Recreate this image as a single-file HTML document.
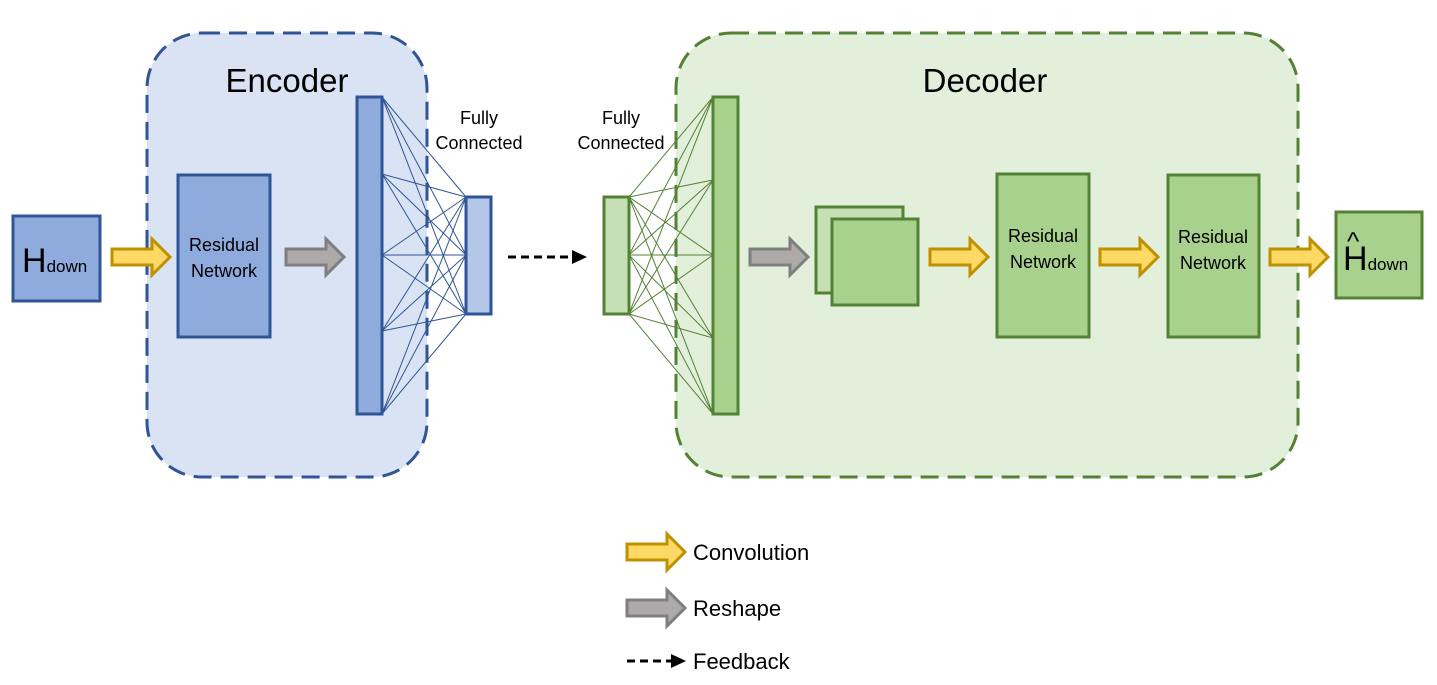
<!DOCTYPE html>
<html><head><meta charset="utf-8"><style>
body{margin:0;background:#fff}
svg{display:block}
text{font-family:"Liberation Sans",sans-serif;fill:#000}
</style></head><body>
<svg width="1437" height="685" viewBox="0 0 1437 685" xmlns="http://www.w3.org/2000/svg">
<defs>
<g id="ya"><path d="M0,-8 H40 V-18 L58,0 L40,18 V8 H0 Z" fill="#FFD966" stroke="#BF9000" stroke-width="3"/></g>
<g id="ga"><path d="M0,-8 H40 V-18 L58,0 L40,18 V8 H0 Z" fill="#AEAAAA" stroke="#7F7F7F" stroke-width="3"/></g>
</defs>
<rect x="147" y="33" width="280" height="444" rx="55" fill="#DAE3F3" stroke="#2F5597" stroke-width="3" stroke-dasharray="18,9"/>
<rect x="676" y="33" width="622" height="444" rx="55" fill="#E2EFDA" stroke="#548235" stroke-width="3" stroke-dasharray="18,9"/>
<text x="287" y="92" font-size="33" text-anchor="middle">Encoder</text>
<text x="985" y="92" font-size="33" text-anchor="middle">Decoder</text>
<text x="479" y="124" font-size="18" text-anchor="middle">Fully</text>
<text x="479" y="149" font-size="18" text-anchor="middle">Connected</text>
<text x="621" y="124" font-size="18" text-anchor="middle">Fully</text>
<text x="621" y="149" font-size="18" text-anchor="middle">Connected</text>
<!-- encoder lines -->
<g stroke="#2F5597" stroke-width="1">
<path d="M382,97L466,197M382,97L466,255M382,97L466,314M382,174L466,197M382,174L466,255M382,174L466,314M382,255L466,197M382,255L466,255M382,255L466,314M382,331L466,197M382,331L466,255M382,331L466,314M382,414L466,197M382,414L466,255M382,414L466,314"/>
</g>
<g stroke="#548235" stroke-width="1">
<path d="M629,197L713,97M629,197L713,180M629,197L713,255M629,197L713,338M629,197L713,414M629,255L713,97M629,255L713,180M629,255L713,255M629,255L713,338M629,255L713,414M629,314L713,97M629,314L713,180M629,314L713,255M629,314L713,338M629,314L713,414"/>
</g>
<rect x="357" y="97" width="25" height="317" fill="#8FAADC" stroke="#2F5597" stroke-width="3"/>
<rect x="466" y="197" width="25" height="117" fill="#B4C7E7" stroke="#2F5597" stroke-width="3"/>
<rect x="604" y="197" width="25" height="117" fill="#C5E0B4" stroke="#548235" stroke-width="3"/>
<rect x="713" y="97" width="25" height="317" fill="#A9D18E" stroke="#548235" stroke-width="3"/>
<rect x="13" y="216" width="87" height="85" fill="#8FAADC" stroke="#2F5597" stroke-width="3"/>
<text x="22" y="272" font-size="34">H<tspan font-size="17">down</tspan></text>
<rect x="178" y="175" width="92" height="162" fill="#8FAADC" stroke="#2F5597" stroke-width="3"/>
<text x="224" y="251" font-size="18" text-anchor="middle">Residual</text>
<text x="224" y="277" font-size="18" text-anchor="middle">Network</text>
<rect x="816" y="207" width="87" height="86" fill="#C5E0B4" stroke="#548235" stroke-width="3"/>
<rect x="832" y="219" width="86" height="86" fill="#A9D18E" stroke="#548235" stroke-width="3"/>
<rect x="997" y="174" width="92" height="163" fill="#A9D18E" stroke="#548235" stroke-width="3"/>
<text x="1043" y="242" font-size="18" text-anchor="middle">Residual</text>
<text x="1043" y="268" font-size="18" text-anchor="middle">Network</text>
<rect x="1168" y="175" width="91" height="162" fill="#A9D18E" stroke="#548235" stroke-width="3"/>
<text x="1213" y="243" font-size="18" text-anchor="middle">Residual</text>
<text x="1213" y="269" font-size="18" text-anchor="middle">Network</text>
<rect x="1336" y="212" width="86" height="86" fill="#A9D18E" stroke="#548235" stroke-width="3"/>
<text x="1343" y="270" font-size="34">H<tspan font-size="17">down</tspan></text>
<text x="1347" y="250" font-size="26">^</text>
<use href="#ya" x="112" y="257"/>
<use href="#ga" x="286" y="257"/>
<use href="#ga" x="750" y="257"/>
<use href="#ya" x="930" y="257"/>
<use href="#ya" x="1100" y="257"/>
<use href="#ya" x="1270" y="257"/>
<line x1="508" y1="257" x2="574" y2="257" stroke="#000" stroke-width="3" stroke-dasharray="8,5"/>
<path d="M572,250 L587,257 L572,264 Z" fill="#000"/>
<use href="#ya" x="627" y="552"/>
<use href="#ga" x="627" y="608"/>
<line x1="627" y1="661" x2="673" y2="661" stroke="#000" stroke-width="3" stroke-dasharray="8,5"/>
<path d="M671,654 L686,661 L671,668 Z" fill="#000"/>
<text x="693" y="560" font-size="22">Convolution</text>
<text x="693" y="616" font-size="22">Reshape</text>
<text x="693" y="669" font-size="22">Feedback</text>
</svg>
</body></html>
